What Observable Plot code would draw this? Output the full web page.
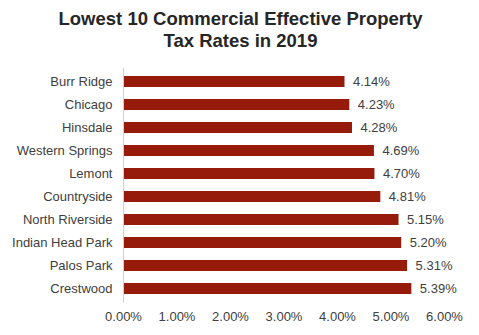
<!DOCTYPE html>
<html>
<head>
<meta charset="utf-8">
<script src="https://cdn.jsdelivr.net/npm/d3@7"></script>
<script src="https://cdn.jsdelivr.net/npm/@observablehq/plot@0.6"></script>
<style>
  html, body { margin: 0; padding: 0; background: #fff; }
  #wrap { width: 479px; height: 335px; overflow: hidden; }
  #title { height: 60px; box-sizing: border-box; padding-top: 8px; text-align: center;
    font-family: "Liberation Sans", Arial, sans-serif; font-weight: bold; font-size: 18.5px;
    line-height: 22px; color: #262626; padding-left: 2px; }
  svg { display: block; }
</style>
</head>
<body>
<div id="wrap">
  <div id="title">Lowest 10 Commercial Effective Property<br>Tax Rates in 2019</div>
  <div id="chart"></div>
</div>
<script>
const municipalities = ["Burr Ridge", "Chicago", "Hinsdale", "Western Springs", "Lemont", "Countryside", "North Riverside", "Indian Head Park", "Palos Park", "Crestwood"];
const rates = [4.14, 4.23, 4.28, 4.69, 4.70, 4.81, 5.15, 5.20, 5.31, 5.39];
const xTicks = [0, 1, 2, 3, 4, 5, 6];

const data = municipalities.map((name, i) => ({name, rate: rates[i]}));
const fmt = d => d.toFixed(2) + "%";

const chart = Plot.plot({
  width: 479,
  height: 275,
  marginLeft: 123,
  marginRight: 35,
  marginTop: 8,
  marginBottom: 32,
  style: {fontFamily: "'Liberation Sans', Arial, sans-serif", fontSize: "13px", color: "#404040", background: "#fff"},
  x: {domain: [0, 6], ticks: xTicks, tickFormat: fmt, label: null},
  y: {domain: municipalities, paddingInner: 0.52, paddingOuter: 0.26, label: null},
  marks: [
    Plot.barX(data, {y: "name", x: "rate", fill: "#961b0b"}),
    Plot.ruleX([0], {stroke: "#d0d0d0", strokeWidth: 1}),
    Plot.text(data, {y: "name", x: "rate", text: d => fmt(d.rate), textAnchor: "start", dx: 8, fill: "#404040", fontSize: 13}),
    Plot.axisX({ticks: xTicks, tickFormat: fmt, tickSize: 0, tickPadding: 8, fontSize: 13, fill: "#404040", label: null}),
    Plot.axisY({tickSize: 0, tickPadding: 11, fontSize: 13, fill: "#404040", label: null})
  ]
});
document.getElementById("chart").appendChild(chart);
</script>
</body>
</html>
